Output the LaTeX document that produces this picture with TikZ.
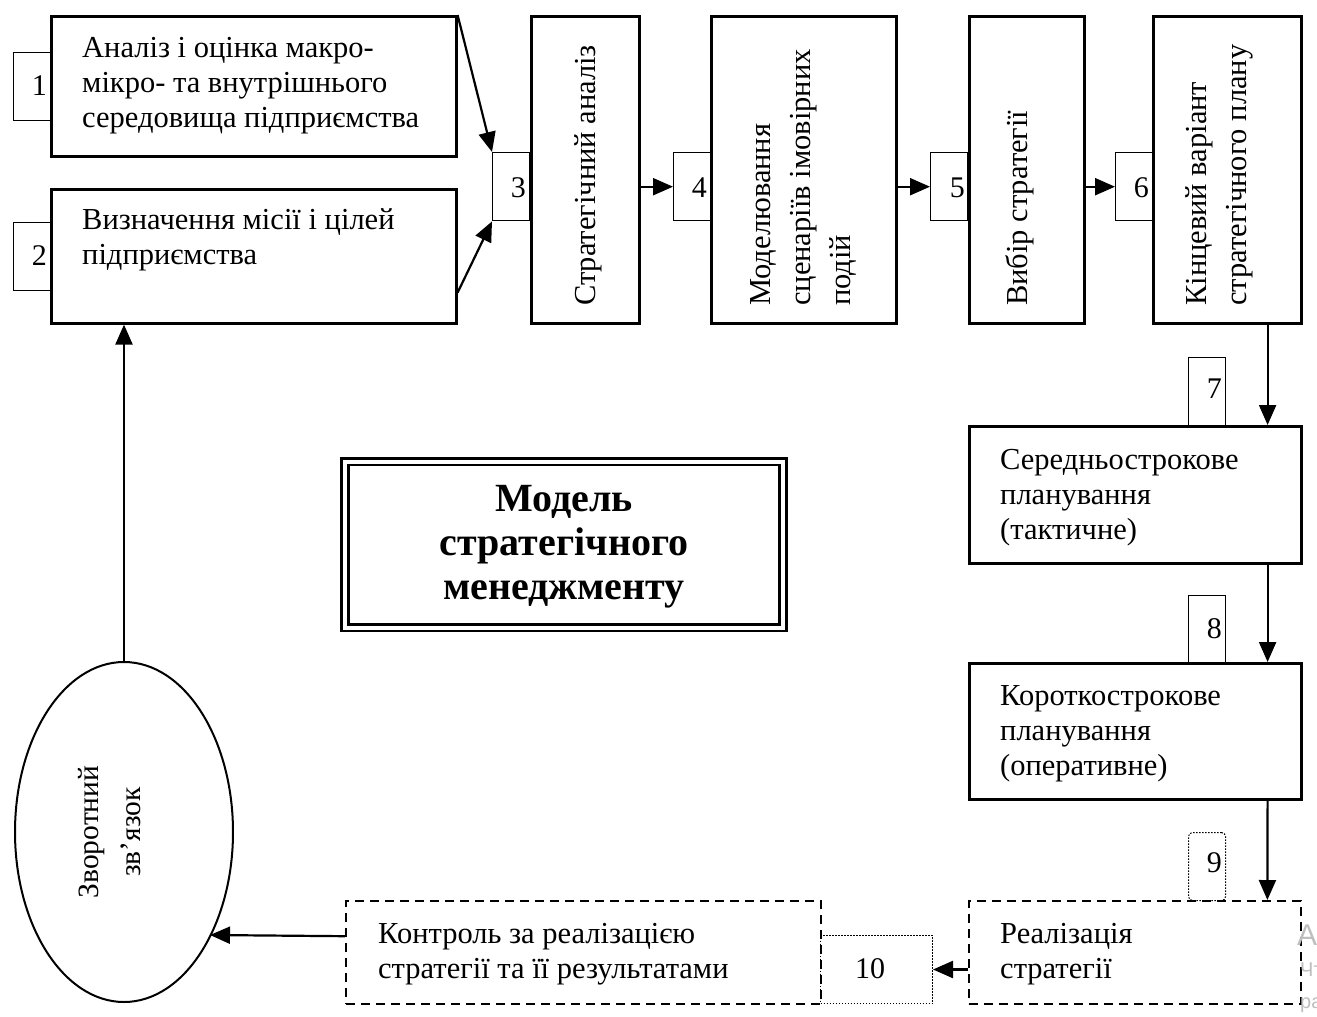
\documentclass[tikz,border=0pt]{standalone}
\usepackage{fontspec}
\setmainfont{LiberationSerif}[Extension=.ttf, UprightFont=*-Regular, BoldFont=*-Bold, ItalicFont=*-Italic, BoldItalicFont=*-BoldItalic]
\newfontfamily\wmfont{Liberation Sans}
\usetikzlibrary{arrows.meta,shapes.geometric}
\begin{document}
\begin{tikzpicture}[x=1pt,y=-1pt,
  box/.style={draw, line width=2.6pt, inner sep=0, anchor=north west},
  dbox/.style={draw, line width=2.4pt, dash pattern=on 9pt off 6pt, inner sep=0, anchor=north west},
  numbox/.style={draw, line width=1.4pt, inner sep=0, anchor=north west, minimum width=37pt, minimum height=68pt},
  dotbox/.style={draw, line width=1pt, dash pattern=on 1.5pt off 1.5pt, inner sep=0, anchor=north west},
  txt/.style={font=\fontsize{30.5}{35}\selectfont, align=left, inner sep=0, anchor=base west},
  vtxt/.style={font=\fontsize{30.5}{40}\selectfont, align=left, inner sep=0, rotate=90, anchor=west},
  num/.style={font=\fontsize{30}{35}\selectfont, inner sep=0, anchor=base east},
  wm/.style={text=black!25, inner sep=0, anchor=base west},
  arr/.style={line width=2.2pt, -{Triangle[length=20pt,width=17pt]}},
]
\useasboundingbox (0,0) rectangle (1317,1017);
\fill[white] (0,0) rectangle (1317,1017);

% number boxes
\node[numbox] (n1) at (13,52) {};
\node[numbox] (n2) at (13,222) {};
\node[numbox] (n3) at (492,152) {};
\node[numbox] (n4) at (673,152) {};
\node[numbox] (n5) at (930,152) {};
\node[numbox] (n6) at (1115,152) {};
\node[numbox] (n7) at (1188,357) {};
\node[numbox] (n8) at (1188,595) {};
\node[dotbox, rounded corners=4pt, minimum width=37pt, minimum height=68pt] (n9) at (1188,832) {};
\node[dotbox, minimum width=112pt, minimum height=68pt] (n10) at (820,935) {};

\node[num] at (47,95) {1};
\node[num] at (47,265) {2};
\node[num] at (526,197) {3};
\node[num] at (707,197) {4};
\node[num] at (965,197) {5};
\node[num] at (1149,197) {6};
\node[num] at (1222,398) {7};
\node[num] at (1222,638) {8};
\node[num] at (1222,872) {9};
\node[num, anchor=base] at (870,978) {10};

% main boxes
\node[box, minimum width=405pt, minimum height=140pt] (b1) at (50,15) {};
\node[box, minimum width=405pt, minimum height=134pt] (b2) at (50,188) {};
\node[box, minimum width=108pt, minimum height=307pt] (b3) at (530,15) {};
\node[box, minimum width=185pt, minimum height=307pt] (b4) at (710,15) {};
\node[box, minimum width=115pt, minimum height=307pt] (b5) at (968,15) {};
\node[box, minimum width=148pt, minimum height=307pt] (b6) at (1152,15) {};
\node[box, minimum width=332pt, minimum height=137pt] (b7) at (968,425) {};
\node[box, minimum width=332pt, minimum height=136pt] (b8) at (968,662) {};
\node[dbox, minimum width=332pt, minimum height=103pt] (b9) at (968,900) {};
\node[dbox, minimum width=475pt, minimum height=103pt] (b10) at (345,900) {};
\node[draw, ellipse, line width=2pt, minimum width=218pt, minimum height=340pt, inner sep=0] (ell) at (124,832) {};

% texts (anchored at the baseline of the last line)
\node[txt] (t1) at (82,127) {Аналіз і оцінка макро-\\мікро- та внутрішнього\\середовища підприємства};
\node[txt] (t2) at (82,264) {Визначення місії і цілей\\підприємства};
\node[vtxt] (t3) at (588,306) {Стратегічний аналіз};
\node[vtxt] (t4) at (803,306) {Моделювання\\сценаріїв імовірних\\подій};
\node[vtxt] (t5) at (1020,306) {Вибір стратегії};
\node[vtxt] (t6) at (1219,306) {Кінцевий варіант\\стратегічного плану};
\node[txt] (t7) at (1000,539) {Середньострокове\\планування\\(тактичне)};
\node[txt] (t8) at (1000,775) {Короткострокове\\планування\\(оперативне)};
\node[txt] (t9) at (1000,978) {Реалізація\\стратегії};
\node[txt] (t10) at (378,978) {Контроль за реалізацією\\стратегії та її результатами};
\node[font=\fontsize{29.5}{42}\selectfont, align=center, inner sep=0, rotate=90] (te) at (110,832) {Зворотний\\зв’язок};

% title
\node[draw, double, double distance=4pt, line width=2.6pt, minimum width=438pt, minimum height=166pt, inner sep=0] (title) at (564,544.5) {};
\node[font=\bfseries\fontsize{40}{44}\selectfont, align=center, inner sep=0] (tt) at (564,547) {Модель\\стратегічного\\менеджменту};

% watermark remnants
\node[wm, font=\wmfont\fontsize{30}{30}\selectfont] (w1) at (1297,945) {А};
\node[wm, font=\wmfont\fontsize{20}{20}\selectfont] (w2) at (1300,976) {Чт};
\node[wm, font=\wmfont\fontsize{20}{20}\selectfont] (w3) at (1300,1008) {ра};

% connectors
\draw[arr] (b1.north east) -- (n3.north west);
\draw[arr] ([yshift=32pt]b2.south east) -- (n3.south west);
\draw[arr] (b3.east |- n4.west) -- (n4.west);
\draw[arr] (b4.east |- n5.west) -- (n5.west);
\draw[arr] (b5.east |- n6.west) -- (n6.west);
\draw[arr] ([xshift=-35pt]b6.south east) -- ([xshift=-35pt]b7.north east);
\draw[arr] ([xshift=-35pt]b7.south east) -- ([xshift=-35pt]b8.north east);
\draw[arr] ([xshift=-35pt]b8.south east) -- ([xshift=-35pt]b9.north east);
\draw[arr] (b9.west |- n10.east) -- (n10.east);
\draw[arr] ([yshift=16.5pt]b10.west) -- ([shift={(86,103)}]ell.center);
\draw[arr] (ell.north) -- (ell.north |- b2.south);
\end{tikzpicture}
\end{document}
